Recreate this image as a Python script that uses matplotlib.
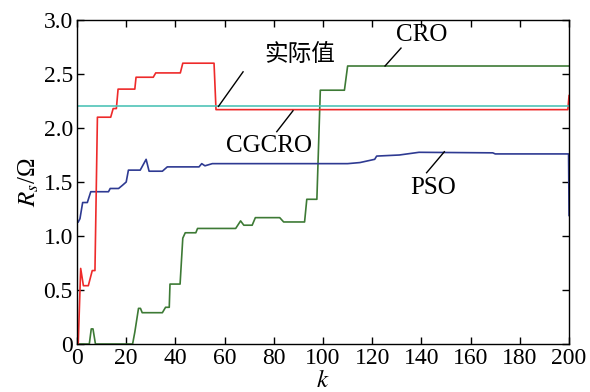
import matplotlib
matplotlib.use("Agg")
import matplotlib.pyplot as plt
from matplotlib import font_manager
from matplotlib.font_manager import FontProperties

serif_path = None
for f in font_manager.fontManager.ttflist:
    if f.name == 'Liberation Serif' and f.style == 'normal' and f.weight in (400, 'normal', 'regular'):
        serif_path = f.fname
        break
if serif_path is None:
    serif_path = font_manager.findfont(FontProperties(family='Liberation Serif'))

plt.rcParams['mathtext.fontset'] = 'stix'


def fp(size):
    return FontProperties(fname=serif_path, size=size)


# CGCRO (red)
k_cgcro = [0.5, 1.5, 2.6, 4.6, 6.2, 7.3, 8.3, 13.7, 14.7, 16, 16.7, 23.5, 24, 31, 32, 42, 43, 55.7, 56.5, 199.5, 200]
v_cgcro = [0, 0.70, 0.54, 0.54, 0.68, 0.68, 2.10, 2.10, 2.18, 2.18, 2.36, 2.36, 2.47, 2.47, 2.51, 2.51, 2.60, 2.60, 2.17, 2.17, 2.30]

# PSO (blue)
k_pso = [0.5, 1.2, 2.3, 4.2, 5.6, 12.8, 13.5, 16.9, 18.5, 20, 20.9, 25.7, 28.1, 29.3, 34.7, 36.7, 49.6, 50.7, 52, 55,
         110, 115, 121, 121.8, 131, 139, 169, 170, 199.8, 200]
v_pso = [1.13, 1.16, 1.31, 1.31, 1.41, 1.41, 1.44, 1.44, 1.47, 1.50, 1.61, 1.61, 1.71, 1.60, 1.60, 1.64, 1.64, 1.67, 1.65, 1.67,
         1.67, 1.68, 1.71, 1.74, 1.75, 1.775, 1.77, 1.76, 1.76, 1.19]

# CRO (green)
k_cro = [0, 5, 5.8, 6.5, 7.5, 22.6, 23.5, 25, 25.8, 26.5, 34.7, 36, 37.5, 37.8, 41.9, 43, 44, 48.3, 49, 64.5, 66.5, 67.8,
         71.2, 72.5, 82.4, 84, 92.5, 93.4, 97.5, 98.9, 108.7, 110, 200]
v_cro = [0, 0, 0.14, 0.14, 0, 0, 0.11, 0.33, 0.33, 0.29, 0.29, 0.34, 0.34, 0.555, 0.555, 0.98, 1.03, 1.03, 1.07, 1.07, 1.14, 1.10,
         1.10, 1.17, 1.17, 1.13, 1.13, 1.34, 1.34, 2.35, 2.35, 2.574, 2.574]

# actual value
k_true = [0, 200]
v_true = [2.2, 2.2]

x_ticks = [0, 20, 40, 60, 80, 100, 120, 140, 160, 180, 200]
y_ticks = [0, 0.5, 1.0, 1.5, 2.0, 2.5, 3.0]
y_tick_labels = ['0', '0.5', '1.0', '1.5', '2.0', '2.5', '3.0']

fig = plt.figure(figsize=(5.9, 3.92), dpi=100)
ax = fig.add_axes([0.1305, 0.1224, 0.834, 0.8266])

ax.plot(k_cro, v_cro, color='#3d7a35', lw=1.2)
ax.plot(k_pso, v_pso, color='#2e3a92', lw=1.2)
ax.plot(k_cgcro, v_cgcro, color='#ee2a2a', lw=1.2)
ax.plot(k_true, v_true, color='#4fc3b8', lw=1.2)

ax.set_xlim(0, 200)
ax.set_ylim(0, 3.0)
ax.set_xticks(x_ticks)
ax.set_xticklabels([str(t) for t in x_ticks], fontproperties=fp(17))
ax.set_yticks(y_ticks)
ax.set_yticklabels(y_tick_labels, fontproperties=fp(17))
ax.tick_params(direction='in', top=True, right=True, length=5, width=1, pad=3)
for s in ax.spines.values():
    s.set_linewidth(1.0)

ax.set_xlabel(r'$k$', fontsize=18, labelpad=-1)
ax.set_ylabel(r'$R_s$/Ω', fontproperties=fp(18), labelpad=2)

lk = dict(color='black', lw=1.0)
ax.text(90.6, 2.685, '实际值', fontsize=17, ha='center', va='center',
        family='Noto Sans CJK SC', weight='light')
ax.plot([67.5, 57.5], [2.52, 2.2], **lk)
ax.text(140, 2.86, 'CRO', fontproperties=fp(18), ha='center', va='center')
ax.plot([131.7, 125.2], [2.74, 2.574], **lk)
ax.text(78, 1.836, 'CGCRO', fontproperties=fp(18), ha='center', va='center')
ax.plot([81.2, 87.8], [1.966, 2.16], **lk)
ax.text(144.6, 1.444, 'PSO', fontproperties=fp(18), ha='center', va='center')
ax.plot([142.1, 149.3], [1.586, 1.78], **lk)

fig.savefig('out.png', dpi=100)
